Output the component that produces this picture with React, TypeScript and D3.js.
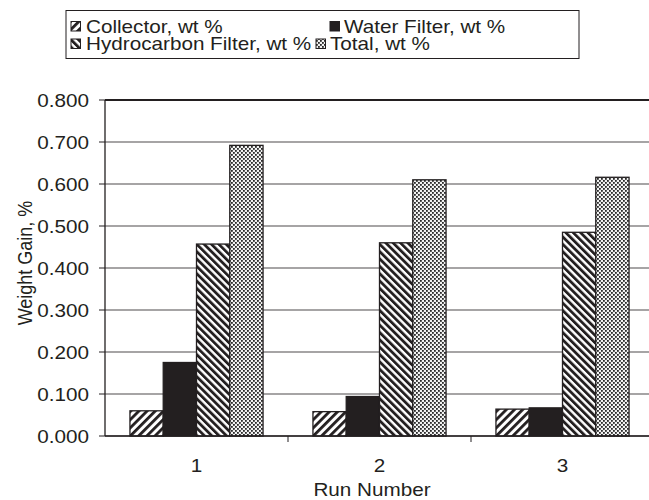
import React from "react";
import * as d3 from "d3";

// Run categories and the four measured series (weight gain, %)
const runs = ["1", "2", "3"];
const seriesNames = [
  "Collector, wt %",
  "Water Filter, wt %",
  "Hydrocarbon Filter, wt %",
  "Total, wt %",
];
const collector = [0.06, 0.058, 0.064];
const waterFilter = [0.175, 0.094, 0.067];
const hydrocarbonFilter = [0.457, 0.46, 0.485];
const total = [0.692, 0.61, 0.616];
const yTicks = [0, 0.1, 0.2, 0.3, 0.4, 0.5, 0.6, 0.7, 0.8];

const seriesValues = [collector, waterFilter, hydrocarbonFilter, total];
const fills = ["url(#pColl)", "#231f20", "url(#pHydro)", "url(#pTotal)"];

const W = 649;
const H = 500;
const left = 105;
const right = 654;
const top = 100;
const bottom = 436;
const FONT = "'Liberation Sans', Arial, Helvetica, sans-serif";
const FS = 18;
const SX = 1.15; // horizontal text stretch

function Label(props: {
  x: number;
  y: number;
  anchor?: "start" | "middle" | "end";
  children: React.ReactNode;
}) {
  return (
    <text
      transform={`translate(${props.x},${props.y}) scale(${SX},1)`}
      textAnchor={props.anchor || "start"}
      fontSize={FS}
      fill="#231f20"
    >
      {props.children}
    </text>
  );
}

export default function App() {
  const x0 = d3.scaleBand<string>().domain(runs).range([left, right]).padding(0);
  const bw = x0.bandwidth();
  const x1 = d3
    .scaleBand<string>()
    .domain(seriesNames)
    .range([0, bw])
    .paddingInner(0)
    .paddingOuter(0.75);
  const y = d3.scaleLinear().domain([0, 0.8]).range([bottom, top]);

  const legendItems = [
    { name: seriesNames[0], fill: fills[0], x: 71, tx: 86, y: 32.5 },
    { name: seriesNames[1], fill: fills[1], x: 330, tx: 344, y: 32.5 },
    { name: seriesNames[2], fill: fills[2], x: 71, tx: 86, y: 50 },
    { name: seriesNames[3], fill: fills[3], x: 316, tx: 330, y: 50 },
  ];

  return (
    <svg
      width={W}
      height={H}
      style={{ position: "absolute", left: 0, top: 0, background: "#fff" }}
      fontFamily={FONT}
    >
      <defs>
        <pattern id="pColl" patternUnits="userSpaceOnUse" width={5.8} height={5.8} patternTransform="rotate(45)">
          <rect width={5.8} height={5.8} fill="#fff" />
          <rect width={2.8} height={5.8} fill="#231f20" />
        </pattern>
        <pattern id="pHydro" patternUnits="userSpaceOnUse" width={5.2} height={5.2} patternTransform="rotate(-45)">
          <rect width={5.2} height={5.2} fill="#fff" />
          <rect width={2.8} height={5.2} fill="#231f20" />
        </pattern>
        <pattern id="pTotal" patternUnits="userSpaceOnUse" width={4} height={4}>
          <rect width={4} height={4} fill="#f2f2f2" />
          <rect x={0} y={0} width={1.8} height={1.8} fill="#2a2a2a" />
          <rect x={2} y={2} width={1.8} height={1.8} fill="#2a2a2a" />
        </pattern>
      </defs>

      {/* legend */}
      <rect x={66} y={10.5} width={513} height={48} fill="#fff" stroke="#231f20" strokeWidth={1} />
      {legendItems.map((d) => (
        <g key={d.name}>
          <rect x={d.x} y={d.y - 11} width={9.5} height={9.5} fill={d.fill} stroke="#231f20" strokeWidth={1} />
          <Label x={d.tx} y={d.y}>
            {d.name}
          </Label>
        </g>
      ))}

      {/* horizontal gridlines */}
      {yTicks.map((t) => (
        <line
          key={t}
          x1={left}
          x2={right}
          y1={y(t)}
          y2={y(t)}
          stroke="#231f20"
          strokeWidth={t === 0.8 ? 1.8 : 1.1}
          opacity={t === 0.8 ? 1 : 0.8}
        />
      ))}

      {/* bars */}
      {runs.map((r, i) => (
        <g key={r} transform={`translate(${x0(r)},0)`}>
          {seriesNames.map((s, j) => {
            const v = seriesValues[j][i];
            return (
              <rect
                key={s}
                x={x1(s)}
                y={y(v)}
                width={x1.bandwidth()}
                height={y(0) - y(v)}
                fill={fills[j]}
                stroke="#231f20"
                strokeWidth={1.3}
              />
            );
          })}
        </g>
      ))}

      {/* y axis */}
      <line x1={left} x2={left} y1={top} y2={bottom} stroke="#231f20" strokeWidth={1.3} />
      {yTicks.map((t) => (
        <g key={t}>
          <line x1={left - 6} x2={left} y1={y(t)} y2={y(t)} stroke="#231f20" strokeWidth={1} />
          <Label x={left - 16} y={y(t) + 6.5} anchor="end">
            {d3.format(".3f")(t)}
          </Label>
        </g>
      ))}

      {/* x axis */}
      <line x1={left} x2={right} y1={bottom} y2={bottom} stroke="#231f20" strokeWidth={1.3} />
      {runs.map((r) => (
        <g key={r}>
          <line
            x1={(x0(r) as number) + bw}
            x2={(x0(r) as number) + bw}
            y1={bottom}
            y2={bottom + 6}
            stroke="#231f20"
            strokeWidth={1}
          />
          <Label x={(x0(r) as number) + bw / 2} y={472} anchor="middle">
            {r}
          </Label>
        </g>
      ))}

      {/* axis titles */}
      <Label x={372} y={496} anchor="middle">
        Run Number
      </Label>
      <text
        transform={`translate(32,263) rotate(-90) scale(1,${SX})`}
        textAnchor="middle"
        fontSize={FS}
        fill="#231f20"
      >
        Weight Gain, %
      </text>
    </svg>
  );
}
